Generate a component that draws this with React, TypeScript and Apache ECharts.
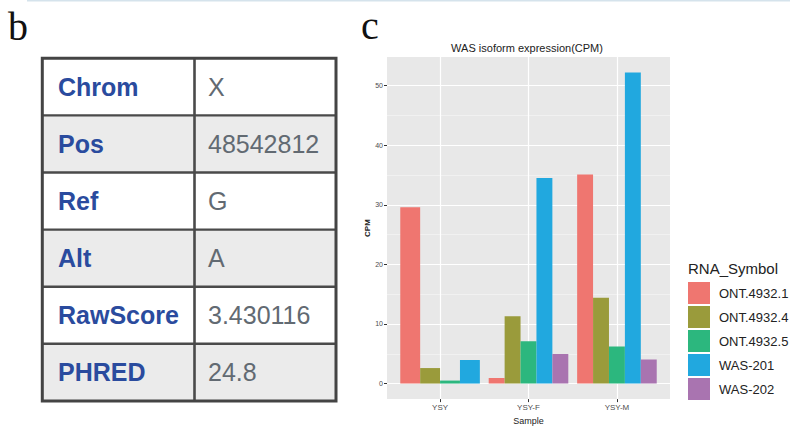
import React, { useEffect, useRef } from "react";
import * as echarts from "echarts";

// ---- Panel b: variant table ----
const tableKeys = ["Chrom", "Pos", "Ref", "Alt", "RawScore", "PHRED"];
const tableValues = ["X", "48542812", "G", "A", "3.430116", "24.8"];

// ---- Panel c: bar chart ----
const categories = ["YSY", "YSY-F", "YSY-M"];
const seriesNames = ["ONT.4932.1", "ONT.4932.4", "ONT.4932.5", "WAS-201", "WAS-202"];
const ont49321 = [29.6, 0.95, 35.1];
const ont49324 = [2.6, 11.3, 14.4];
const ont49325 = [0.5, 7.1, 6.2];
const was201 = [3.95, 34.5, 52.2];
const was202: (number | null)[] = [null, 4.95, 4.05];
const yMajorTicks = [0, 10, 20, 30, 40, 50];
const yMinorTicks = [5, 15, 25, 35, 45];

const seriesValues: (number | null)[][] = [ont49321, ont49324, ont49325, was201, was202];
const colors = ["#ef7670", "#9a9b3b", "#2cb77e", "#21a8df", "#a974b0"];
const FONT = "'Liberation Sans', Arial, sans-serif";

export default function App() {
  const ref = useRef<HTMLDivElement>(null);

  useEffect(() => {
    if (!ref.current) return;
    const chart = echarts.init(ref.current, null, { renderer: "svg" });

    // ggplot-like y expansion (5%)
    const allVals = seriesValues.flat().filter((v) => v != null) as number[];
    const dMax = Math.max(...allVals);
    const dMin = Math.min(0, ...allVals);
    const pad = (dMax - dMin) * 0.05;
    const yMin = dMin - pad;
    const yMax = dMax + pad;

    // dodge slots per category (only present series take space)
    const slotInfo = categories.map((_, ci) =>
      seriesValues.map((vals, si) => (vals[ci] != null ? si : -1)).filter((si) => si >= 0)
    );

    const series = seriesNames.map((name, si) => ({
      type: "custom",
      name,
      xAxisIndex: 0,
      yAxisIndex: 0,
      z: 5,
      itemStyle: { color: colors[si] },
      encode: { x: 0, y: 1 },
      data: categories
        .map((_, ci) => {
          const v = seriesValues[si][ci];
          if (v == null) return null;
          return [ci + 1, v, slotInfo[ci].indexOf(si), slotInfo[ci].length];
        })
        .filter((d) => d != null),
      renderItem: (params: any, api: any) => {
        const x = api.value(0);
        const y = api.value(1);
        const slot = api.value(2);
        const n = api.value(3);
        const base = api.coord([x, 0]);
        const top = api.coord([x, y]);
        const band = api.size([0.9, 0])[0];
        const w = band / n;
        const left = base[0] - band / 2 + slot * w;
        return {
          type: "rect",
          shape: { x: left, y: top[1], width: w, height: base[1] - top[1] },
          style: { fill: colors[si] },
        };
      },
    }));

    // table graphics
    const tLeft = 42.3;
    const tRight = 336;
    const tTop = 58.3;
    const rowH = 57.1;
    const colX = 194.5;
    const tBottom = tTop + rowH * tableKeys.length;
    const graphics: any[] = [];
    graphics.push({
      type: "rect",
      shape: { x: 27, y: 0, width: 763, height: 1.6 },
      style: { fill: "#d5e3ec" },
      silent: true,
    });
    tableKeys.forEach((k, i) => {
      const y0 = tTop + i * rowH;
      graphics.push({
        type: "rect",
        shape: { x: tLeft, y: y0, width: tRight - tLeft, height: rowH },
        style: { fill: i % 2 === 0 ? "#ffffff" : "#ebebeb" },
        silent: true,
      });
    });
    for (let i = 1; i < tableKeys.length; i++) {
      const y = tTop + i * rowH;
      graphics.push({
        type: "line",
        shape: { x1: tLeft, y1: y, x2: tRight, y2: y },
        style: { stroke: "#4a4a4a", lineWidth: 2.4 },
        silent: true,
      });
    }
    graphics.push({
      type: "line",
      shape: { x1: colX, y1: tTop, x2: colX, y2: tBottom },
      style: { stroke: "#4a4a4a", lineWidth: 2.6 },
      silent: true,
    });
    graphics.push({
      type: "rect",
      shape: { x: tLeft, y: tTop, width: tRight - tLeft, height: tBottom - tTop },
      style: { fill: "none", stroke: "#444", lineWidth: 3 },
      silent: true,
    });
    tableKeys.forEach((k, i) => {
      const cy = tTop + i * rowH + rowH / 2;
      graphics.push({
        type: "text",
        x: 58,
        y: cy,
        style: {
          text: k,
          fill: "#2a4b9e",
          font: `bold 25px ${FONT}`,
          verticalAlign: "middle",
          align: "left",
        },
        silent: true,
      });
      graphics.push({
        type: "text",
        x: 208,
        y: cy,
        style: {
          text: tableValues[i],
          fill: "#626a72",
          font: `25px ${FONT}`,
          verticalAlign: "middle",
          align: "left",
        },
        silent: true,
      });
    });
    // panel letters
    graphics.push({
      type: "text",
      x: 8,
      y: 26.5,
      style: { text: "b", fill: "#111", font: "40px 'Liberation Serif', serif", verticalAlign: "middle" },
      silent: true,
    });
    graphics.push({
      type: "text",
      x: 361,
      y: 25,
      style: { text: "c", fill: "#111", font: "40px 'Liberation Serif', serif", verticalAlign: "middle" },
      silent: true,
    });
    // chart title
    graphics.push({
      type: "text",
      x: 527,
      y: 48,
      style: {
        text: "WAS isoform expression(CPM)",
        fill: "#222",
        font: `11px ${FONT}`,
        align: "center",
        verticalAlign: "middle",
      },
      silent: true,
    });
    // legend title
    graphics.push({
      type: "text",
      x: 688,
      y: 268,
      style: { text: "RNA_Symbol", fill: "#222", font: `15px ${FONT}`, verticalAlign: "middle" },
      silent: true,
    });

    const option: any = {
      animation: false,
      backgroundColor: "#ffffff",
      textStyle: { fontFamily: FONT },
      grid: {
        left: 387,
        top: 57,
        width: 283,
        height: 347,
        show: true,
        backgroundColor: "#e8e8e8",
        borderWidth: 0,
        containLabel: false,
      },
      xAxis: {
        type: "value",
        min: 0.4,
        max: categories.length + 0.6,
        axisLine: { show: false, onZero: false },
        axisTick: {
          show: true,
          length: 3,
          lineStyle: { color: "#333", width: 1 },
          customValues: categories.map((_, i) => i + 1),
        },
        axisLabel: {
          customValues: categories.map((_, i) => i + 1),
          formatter: (v: number) => categories[Math.round(v) - 1] ?? "",
          fontSize: 8,
          color: "#4d4d4d",
          margin: 4,
        },
        splitLine: { show: true, lineStyle: { color: "#ffffff", width: 1.2 } },
        name: "Sample",
        nameLocation: "middle",
        nameGap: 15,
        nameTextStyle: { fontSize: 9, color: "#222" },
      },
      yAxis: [
        {
          type: "value",
          min: yMin,
          max: yMax,
          axisLine: { show: false },
          axisTick: {
            show: true,
            length: 3,
            lineStyle: { color: "#333", width: 1 },
            customValues: yMajorTicks,
          },
          axisLabel: {
            customValues: yMajorTicks,
            fontSize: 7,
            color: "#4d4d4d",
            margin: 4,
          },
          splitLine: { show: true, lineStyle: { color: "#ffffff", width: 1.2 } },
          name: "CPM",
          nameLocation: "middle",
          nameGap: 13,
          nameTextStyle: { fontSize: 8, fontWeight: "bold", color: "#222" },
        },
        {
          type: "value",
          min: yMin,
          max: yMax,
          position: "left",
          axisLine: { show: false },
          axisTick: { show: false, customValues: yMinorTicks },
          axisLabel: { show: false, customValues: yMinorTicks },
          splitLine: { show: true, lineStyle: { color: "#f6f6f6", width: 0.6 } },
        },
      ],
      legend: {
        data: seriesNames,
        orient: "vertical",
        left: 688,
        top: 282,
        padding: 0,
        icon: "rect",
        itemWidth: 22,
        itemHeight: 22,
        itemGap: 2,
        selectedMode: false,
        textStyle: { fontSize: 13, color: "#222", fontFamily: FONT, padding: [0, 0, 0, 4] },
      },
      graphic: graphics,
      series,
    };

    chart.setOption(option);
    return () => chart.dispose();
  }, []);

  return (
    <div
      ref={ref}
      style={{ position: "absolute", left: 0, top: 0, width: 790, height: 430 }}
    />
  );
}
